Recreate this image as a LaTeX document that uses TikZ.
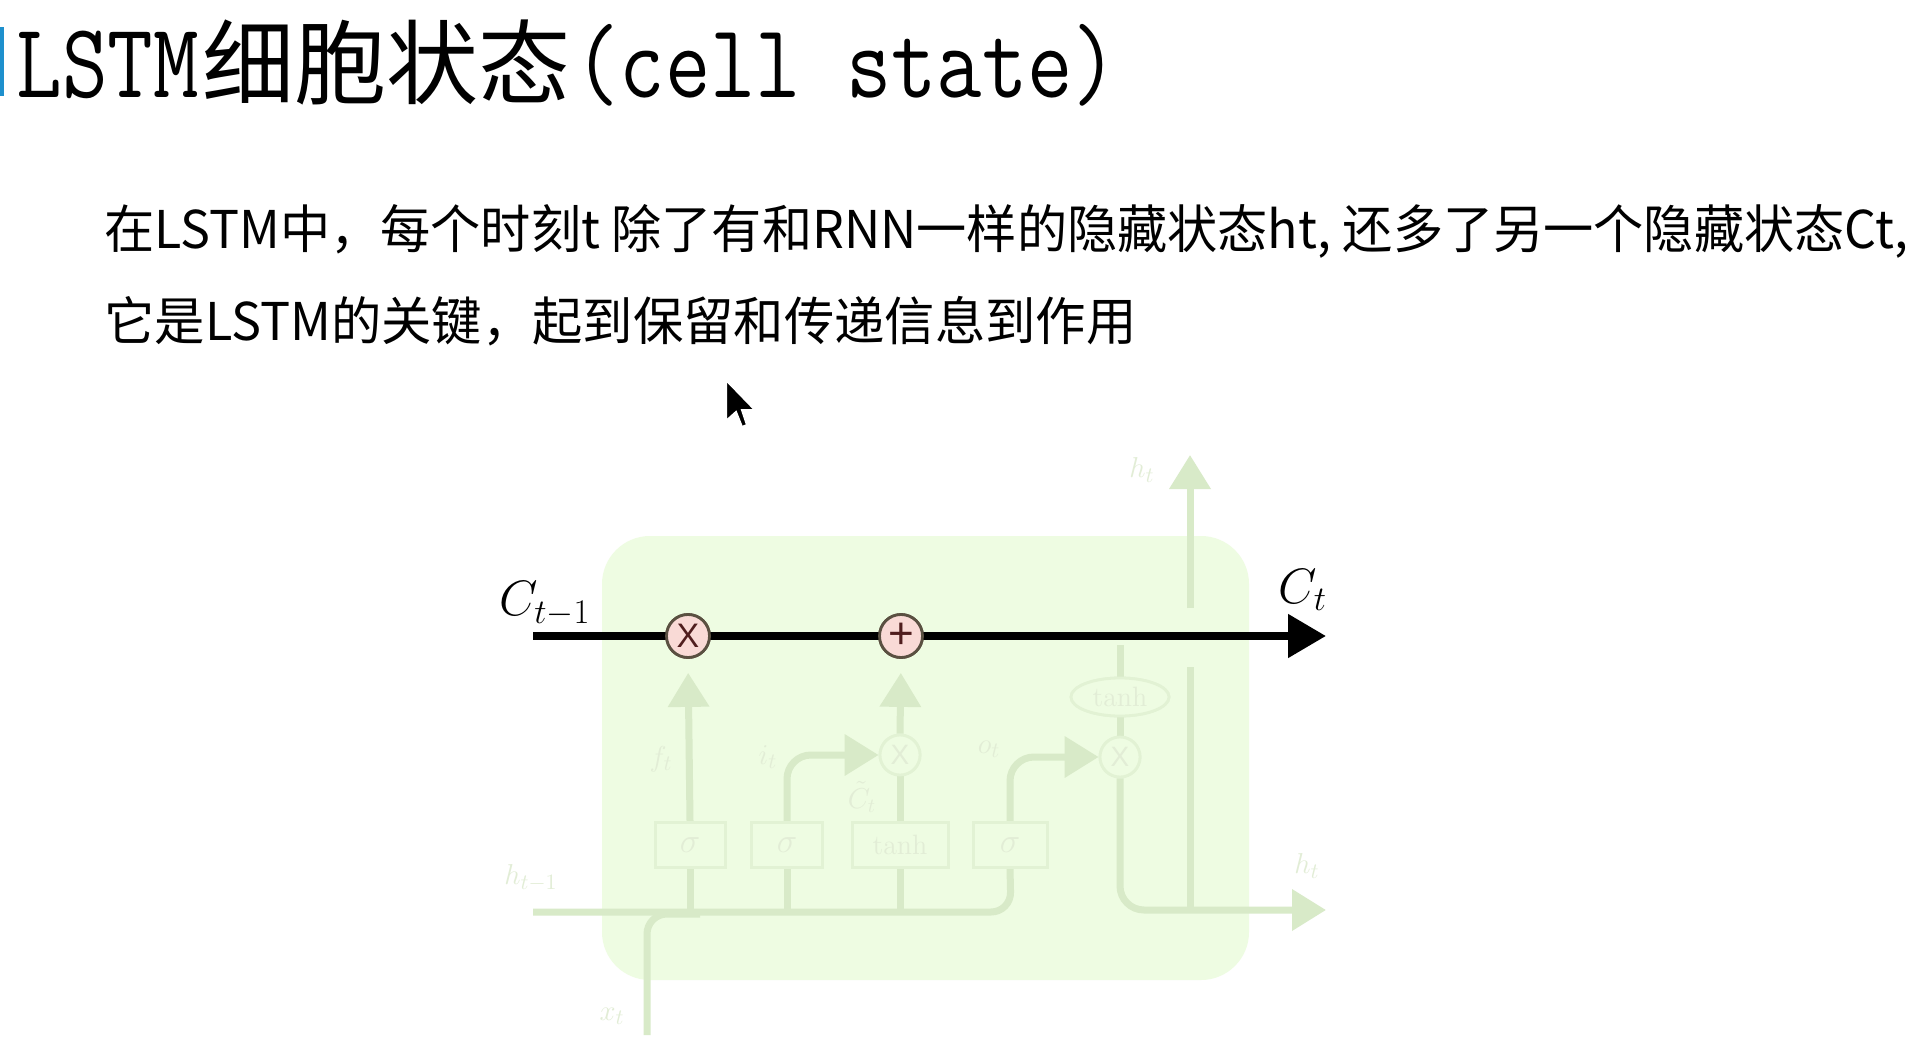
\documentclass[tikz,border=0pt]{standalone}
\usepackage{fontspec}
\usepackage{graphicx}
\newfontfamily\cjk{Noto Sans CJK SC}
\newfontfamily\lsans{Liberation Sans}
\usetikzlibrary{arrows.meta,shapes.geometric}
\definecolor{barblue}{RGB}{30,144,205}
\definecolor{cellbg}{RGB}{238,252,226}
\definecolor{fline}{RGB}{216,234,200}
\definecolor{fboxc}{RGB}{226,242,212}
\definecolor{flab}{RGB}{226,237,214}
\definecolor{pinkf}{RGB}{249,218,214}
\definecolor{ringc}{RGB}{90,80,65}
\definecolor{signc}{RGB}{80,30,30}
\tikzset{
  txt/.style={anchor=base west, inner sep=0pt},
  faint/.style={draw=fline, line width=3.5pt},
  farrow/.style={faint, -{Triangle[length=17pt,width=20pt]}},
  gatebox/.style={draw=fboxc, line width=1.5pt, minimum height=22.5pt, inner sep=0pt, text=flab},
  opc/.style={circle, fill=pinkf, draw=ringc, line width=1.4pt, minimum size=21.5pt, inner sep=0pt, text=signc},
  fopc/.style={circle, fill=cellbg, draw=fboxc, line width=1.4pt, minimum size=20pt, inner sep=0pt, text=flab},
  flabel/.style={inner sep=0pt, text=flab, font=\fontsize{15}{15}\selectfont},
  mlabel/.style={inner sep=0pt, font=\fontsize{27}{30}\selectfont}
}
\begin{document}
\begin{tikzpicture}[x=0.5pt,y=-0.5pt]
\useasboundingbox[fill=white] (0,0) rectangle (1920,1064);
% title
\fill[barblue] (0,27) rectangle (4,96);
\node[txt] (tL) at (16,98) {\scalebox{1.03}[1.24]{\ttfamily\fontsize{43}{45}\selectfont LSTM}};
\node[txt] (tC) at (202,98) {\cjk\fontsize{46}{50}\selectfont 细胞状态};
\node[txt] (tE) at (574,98) {\scalebox{1.035}[1.24]{\ttfamily\fontsize{42.5}{45}\selectfont (cell state)}};
% body text
\node[txt] (b1) at (104,249) {\resizebox{902pt}{\height}{\cjk\fontsize{26}{30}\selectfont 在LSTM中，每个时刻t 除了有和RNN一样的隐藏状态ht, 还多了另一个隐藏状态Ct,}};
\node[txt] (b2) at (104,340) {\resizebox{516pt}{\height}{\cjk\fontsize{26}{30}\selectfont 它是LSTM的关键，起到保留和传递信息到作用}};
% cursor
\filldraw[fill=black, draw=white, line width=1pt] (726,380) -- (726,421) -- (736,412) -- (742,427) -- (747,425) -- (742,410) -- (755,410) -- cycle;
% cell box
\fill[cellbg, rounded corners=24pt] (602,536) rectangle (1249,980);
% coordinates
\coordinate (cin) at (533,636);
\coordinate (cout) at (1326,636);
\coordinate (hin) at (533,912);
\coordinate (xin) at (647,1035);
\coordinate (hout) at (1326,910);
\coordinate (htop) at (1190,455);
\coordinate (hmid) at (1190,608);
\coordinate (hlow) at (1190,667);
\coordinate (hjoin) at (1190,910);
\coordinate (ttop) at (1120,645);
% gate boxes
\node[gatebox, minimum width=35pt] (g1) at (690,845) {\fontsize{18}{18}\selectfont$\sigma$};
\node[gatebox, minimum width=35.5pt] (g2) at (787,845) {\fontsize{18}{18}\selectfont$\sigma$};
\node[gatebox, minimum width=48pt] (g3) at (900,845) {\fontsize{14}{14}\selectfont tanh};
\node[gatebox, minimum width=37pt] (g4) at (1010,845) {\fontsize{18}{18}\selectfont$\sigma$};
% main ops
\node[opc] (mul1) at (688,636) {};
\node[opc] (add) at (901,636) {};
\node[fopc] (mul2) at (900,755) {\lsans\fontsize{14}{14}\selectfont X};
\node[fopc] (mul3) at (1120,757) {\lsans\fontsize{14}{14}\selectfont X};
\node[ellipse, fill=cellbg, draw=fboxc, line width=1.4pt, minimum width=49pt, minimum height=19pt, inner sep=0pt, text=flab] (th2) at (1120,697) {\fontsize{14}{14}\selectfont tanh};
% faint connectors
\draw[faint, rounded corners=10pt] (hin) -- (1011,912) -- (g4.south);
\draw[faint] (g1.south) -- (g1.south |- hin);
\draw[faint] (g2.south) -- (g2.south |- hin);
\draw[faint] (g3.south) -- (g3.south |- hin);
\draw[faint, rounded corners=10pt] (xin) -- (647,914) -- (700,914);
\draw[farrow, shorten >=7pt] (g1.north) -- (mul1.south);
\draw[farrow, rounded corners=12pt] (g2.north) |- (mul2.west);
\draw[faint] (g3.north) -- (mul2.south);
\draw[farrow, shorten >=7pt] (mul2.north) -- (add.south);
\draw[farrow, rounded corners=12pt] (g4.north) |- (mul3.west);
\draw[faint] (ttop) -- (th2.north);
\draw[faint] (th2.south) -- (mul3.north);
\draw[farrow, rounded corners=12pt] (mul3.south) |- (hout);
\draw[faint] (hjoin) -- (hlow);
\draw[farrow] (hmid) -- (htop);
% redraw faint nodes over lines
\node[gatebox, fill=cellbg, minimum width=35pt] at (g1) {\fontsize{18}{18}\selectfont$\sigma$};
\node[gatebox, fill=cellbg, minimum width=35.5pt] at (g2) {\fontsize{18}{18}\selectfont$\sigma$};
\node[gatebox, fill=cellbg, minimum width=48pt] at (g3) {\fontsize{14}{14}\selectfont tanh};
\node[gatebox, fill=cellbg, minimum width=37pt] at (g4) {\fontsize{18}{18}\selectfont$\sigma$};
\node[fopc] at (mul2) {\lsans\fontsize{14}{14}\selectfont X};
\node[fopc] at (mul3) {\lsans\fontsize{14}{14}\selectfont X};
\node[ellipse, fill=cellbg, draw=fboxc, line width=1.4pt, minimum width=49pt, minimum height=19pt, inner sep=0pt, text=flab] at (th2) {\fontsize{14}{14}\selectfont tanh};
% cell state line
\draw[line width=4pt, -{Triangle[length=19pt,width=21pt]}] (cin) -- (cout);
\node[opc] at (mul1) {\lsans\fontsize{17}{17}\selectfont X};
\node[opc] at (add) {\lsans\fontsize{22}{22}\selectfont +};
% labels
\node[mlabel] (lcin) at (545,604) {$C_{t-1}$};
\node[mlabel] (lcout) at (1303,590) {$C_t$};
\node[flabel] (lf) at (661,759) {$f_t$};
\node[flabel] (li) at (768,757) {$i_t$};
\node[flabel, font=\fontsize{14}{14}\selectfont] (lct) at (862,797) {$\tilde{C}_t$};
\node[flabel] (lo) at (989,749) {$o_t$};
\node[flabel] (lhp) at (531,878) {$h_{t-1}$};
\node[flabel] (lho) at (1307,866) {$h_t$};
\node[flabel] (lx) at (612,1016) {$x_t$};
\node[flabel] (lht) at (1142,470) {$h_t$};
\end{tikzpicture}
\end{document}
